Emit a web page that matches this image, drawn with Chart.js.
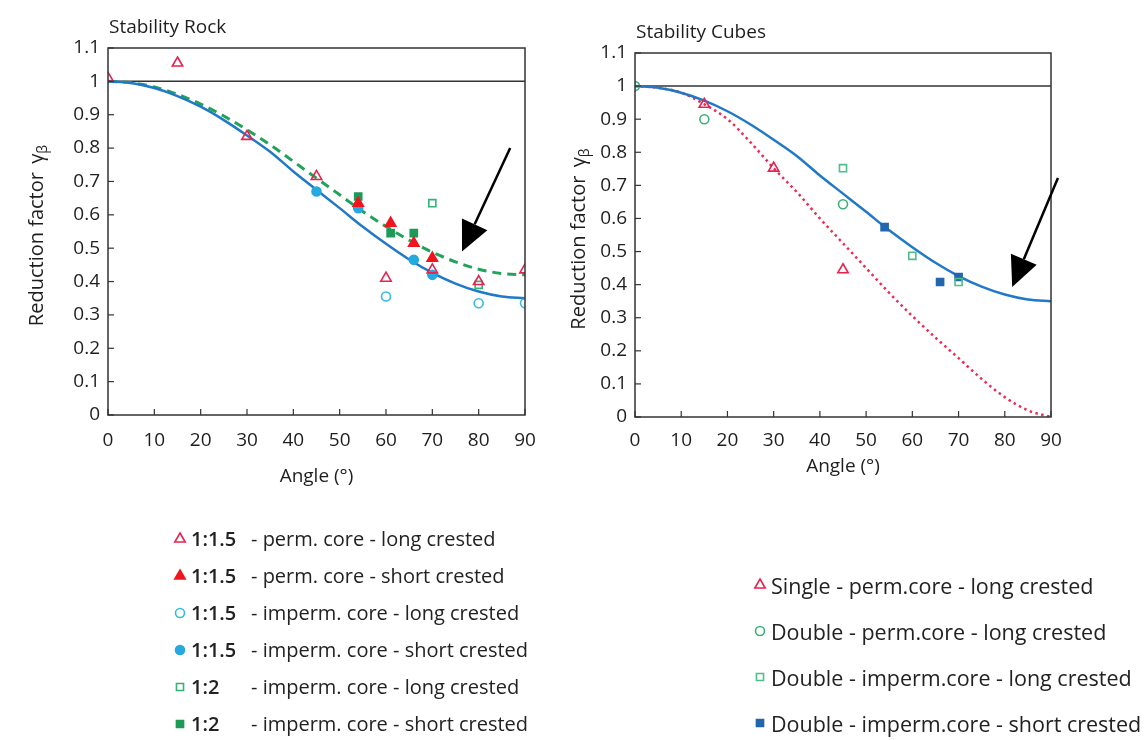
<!DOCTYPE html>
<html>
<head>
<meta charset="utf-8">
<script src="https://cdn.jsdelivr.net/npm/chart.js@4.4.0/dist/chart.umd.min.js"></script>
<style>
  body { margin: 0; width: 1144px; height: 740px; background: #fff; position: relative; overflow: hidden; font-family: "Open Sans", Lato, sans-serif; color: #222; }
  #rockWrap { position: absolute; left: 0; top: 0; }
  #cubeWrap { position: absolute; left: 560px; top: 0; }
  .legend { position: absolute; }
  .legend .row { display: flex; align-items: center; white-space: pre; }
  .legend canvas { margin-right: 3px; }
  #rockLegend { left: 172px; top: 520px; font-size: 20px; }
  #rockLegend .row { height: 37px; }
  #rockLegend .pre { display: inline-block; width: 60px; font-weight: 600; }
  #cubeLegend { left: 752px; top: 562px; font-size: 21.5px; }
  #cubeLegend .row { height: 46px; }
</style>
</head>
<body>
<div id="rockWrap"><canvas id="rockChart" width="560" height="500"></canvas></div>
<div id="cubeWrap"><canvas id="cubeChart" width="584" height="500"></canvas></div>
<div id="rockLegend" class="legend"></div>
<div id="cubeLegend" class="legend"></div>
<script>
// axis ticks
const xTicks = [0, 10, 20, 30, 40, 50, 60, 70, 80, 90];
const yTicks = [0, 0.1, 0.2, 0.3, 0.4, 0.5, 0.6, 0.7, 0.8, 0.9, 1, 1.1];
const refLineX = [0, 90];
const refLineY = [1, 1];

// fitted curves, every 5 degrees
const curveAngles = [0, 5, 10, 15, 20, 25, 30, 35, 40, 45, 50, 55, 60, 65, 70, 75, 80, 85, 90];
const rockBlueCurve = [1.0, 0.995, 0.98, 0.956, 0.924, 0.884, 0.838, 0.789, 0.73, 0.675, 0.62, 0.564, 0.513, 0.466, 0.426, 0.394, 0.37, 0.355, 0.35];
const rockGreenCurve = [1.0, 0.996, 0.983, 0.961, 0.932, 0.896, 0.855, 0.81, 0.76, 0.71, 0.66, 0.61, 0.565, 0.524, 0.488, 0.459, 0.437, 0.424, 0.42];
const cubeBlueCurve = [1.0, 0.995, 0.98, 0.956, 0.924, 0.884, 0.838, 0.789, 0.73, 0.675, 0.62, 0.564, 0.513, 0.466, 0.426, 0.394, 0.37, 0.355, 0.35];
const cubeRedCurve = [1.0, 0.995, 0.98, 0.945, 0.9, 0.83, 0.752, 0.68, 0.6, 0.525, 0.45, 0.375, 0.305, 0.24, 0.178, 0.115, 0.06, 0.02, 0.0];

// Stability Rock measurements
const rockPermLongX = [0, 15, 30, 45, 60, 70, 80, 90];
const rockPermLongY = [1.01, 1.055, 0.835, 0.715, 0.41, 0.435, 0.4, 0.435];
const rockPermShortX = [54, 61, 66, 70];
const rockPermShortY = [0.635, 0.575, 0.515, 0.47];
const rockImpLongX = [60, 80, 90];
const rockImpLongY = [0.355, 0.335, 0.335];
const rockImpShortX = [45, 54, 66, 70];
const rockImpShortY = [0.67, 0.62, 0.465, 0.42];
const rock2LongX = [70, 80];
const rock2LongY = [0.635, 0.39];
const rock2ShortX = [54, 61, 66];
const rock2ShortY = [0.655, 0.545, 0.545];

// Stability Cubes measurements
const cubeSingleX = [15, 30, 45];
const cubeSingleY = [0.945, 0.752, 0.445];
const cubeDblPermX = [0, 15, 45];
const cubeDblPermY = [1.0, 0.9, 0.643];
const cubeDblImpLongX = [45, 60, 70];
const cubeDblImpLongY = [0.752, 0.487, 0.408];
const cubeDblImpShortX = [54, 66, 70];
const cubeDblImpShortY = [0.574, 0.408, 0.423];

const rockLegendPrefix = ["1:1.5", "1:1.5", "1:1.5", "1:1.5", "1:2", "1:2"];
const rockLegendText = [
  "- perm. core - long crested",
  "- perm. core - short crested",
  "- imperm. core - long crested",
  "- imperm. core - short crested",
  "- imperm. core - long crested",
  "- imperm. core - short crested",
];
const cubeLegendText = [
  "Single - perm.core - long crested",
  "Double - perm.core - long crested",
  "Double - imperm.core - long crested",
  "Double - imperm.core - short crested",
];

// arrows in data units [angle, factor]
const rockArrow = { from: [86.8, 0.8], to: [76.4, 0.49] };
const cubeArrow = { from: [91.5, 0.722], to: [81.6, 0.393] };

const FONT = "'Open Sans', Lato, sans-serif";
const INK = "#1e1e1e";

function pts(xs, ys) {
  return xs.map((x, i) => ({ x: x, y: ys[i] }));
}

function markers(label, xs, ys, style, color, filled, radius) {
  return {
    label: label,
    data: pts(xs, ys),
    showLine: false,
    pointStyle: style,
    pointRadius: radius || 5,
    pointBorderWidth: 1.6,
    pointBorderColor: color,
    pointBackgroundColor: filled ? color : "rgba(0,0,0,0)",
    borderColor: color,
    backgroundColor: filled ? color : "rgba(0,0,0,0)",
  };
}

function curve(ys, color, width, dash) {
  return {
    data: pts(curveAngles, ys),
    showLine: true,
    pointRadius: 0,
    borderColor: color,
    borderWidth: width,
    borderDash: dash || [],
    cubicInterpolationMode: "monotone",
    fill: false,
  };
}

function refLine() {
  return {
    data: pts(refLineX, refLineY),
    showLine: true,
    pointRadius: 0,
    borderColor: "#333",
    borderWidth: 1.5,
  };
}

const framePlugin = {
  id: "frame",
  afterDraw(chart, args, opts) {
    const { ctx, chartArea: a, scales } = chart;
    const x = scales.x, y = scales.y;
    ctx.save();
    ctx.strokeStyle = "#333";
    ctx.lineWidth = 1.5;
    ctx.strokeRect(a.left, a.top, a.right - a.left, a.bottom - a.top);
    ctx.lineWidth = 1.2;
    x.ticks.forEach((t) => {
      const px = x.getPixelForValue(t.value);
      ctx.beginPath();
      ctx.moveTo(px, a.bottom);
      ctx.lineTo(px, a.bottom - 6);
      ctx.stroke();
    });
    y.ticks.forEach((t) => {
      const py = y.getPixelForValue(t.value);
      ctx.beginPath();
      ctx.moveTo(a.left, py);
      ctx.lineTo(a.left + 6, py);
      ctx.stroke();
    });
    // chart title
    ctx.fillStyle = INK;
    ctx.font = "19px " + FONT;
    ctx.textBaseline = "middle";
    ctx.textAlign = "left";
    ctx.fillText(opts.title, a.left + 1, a.top - 20);

    // y axis title with subscript beta
    ctx.save();
    ctx.translate(opts.yTitleX, (a.top + a.bottom) / 2 + 4);
    ctx.rotate(-Math.PI / 2);
    ctx.textBaseline = "alphabetic";
    const main = "Reduction factor ", g = "γ", b = "β";
    ctx.font = "20px " + FONT;
    const wMain = ctx.measureText(main).width;
    const wG = ctx.measureText(g).width;
    ctx.font = "14px " + FONT;
    const wB = ctx.measureText(b).width;
    let cx = -(wMain + wG + wB + 3) / 2;
    ctx.font = "20px " + FONT;
    ctx.fillText(main, cx, 7);
    cx += wMain + 3;
    ctx.fillText(g, cx, 7);
    cx += wG;
    ctx.font = "14px " + FONT;
    ctx.fillText(b, cx, 11);
    ctx.restore();

    // arrow
    const ar = opts.arrow;
    const x1 = x.getPixelForValue(ar.from[0]), y1 = y.getPixelForValue(ar.from[1]);
    const x2 = x.getPixelForValue(ar.to[0]), y2 = y.getPixelForValue(ar.to[1]);
    const ang = Math.atan2(y2 - y1, x2 - x1);
    const headLen = 30, headW = 14;
    const bx = x2 - headLen * Math.cos(ang), by = y2 - headLen * Math.sin(ang);
    ctx.strokeStyle = "#000";
    ctx.fillStyle = "#000";
    ctx.lineWidth = 2.5;
    ctx.beginPath();
    ctx.moveTo(x1, y1);
    ctx.lineTo(bx, by);
    ctx.stroke();
    ctx.beginPath();
    ctx.moveTo(x2, y2);
    ctx.lineTo(bx + headW * Math.sin(ang), by - headW * Math.cos(ang));
    ctx.lineTo(bx - headW * Math.sin(ang), by + headW * Math.cos(ang));
    ctx.closePath();
    ctx.fill();
    ctx.restore();
  },
};

function options(cfg) {
  return {
    responsive: false,
    animation: false,
    layout: { padding: { top: cfg.top, right: cfg.right, left: 0, bottom: 0 } },
    plugins: {
      legend: { display: false },
      tooltip: { enabled: false },
      frame: { title: cfg.title, arrow: cfg.arrow, yTitleX: cfg.yTitleX },
    },
    scales: {
      x: {
        type: "linear",
        min: 0,
        max: 90,
        grid: { display: false, drawTicks: false },
        border: { display: false },
        afterBuildTicks: (s) => { s.ticks = xTicks.map((v) => ({ value: v })); },
        afterFit: (s) => { s.height = cfg.xHeight; },
        ticks: { padding: cfg.xTickPad, color: INK, maxRotation: 0, font: { family: FONT, size: 19 } },
        title: {
          display: true,
          text: "Angle (°)",
          color: INK,
          font: { family: FONT, size: 19 },
          padding: { top: 0, bottom: cfg.xTitlePad },
        },
      },
      y: {
        type: "linear",
        min: 0,
        max: 1.1,
        grid: { display: false, drawTicks: false },
        border: { display: false },
        afterBuildTicks: (s) => { s.ticks = yTicks.map((v) => ({ value: v })); },
        afterFit: (s) => { s.width = cfg.yWidth; },
        ticks: {
          padding: 8,
          color: INK,
          font: { family: FONT, size: 19 },
          callback: (v) => String(+v.toFixed(1)),
        },
      },
    },
  };
}

const RED = "#e8224f", RED_F = "#f0141e", CYAN = "#35bcdc", CYAN_F = "#25a9de";
const GREEN = "#33b377", GREEN_F = "#1e9a58", BLUE = "#1f78c8";

const rockMarkers = [
  markers("p-long", rockPermLongX, rockPermLongY, "triangle", RED, false, 6),
  markers("p-short", rockPermShortX, rockPermShortY, "triangle", RED_F, true, 6),
  markers("i-long", rockImpLongX, rockImpLongY, "circle", CYAN, false, 4.5),
  markers("i-short", rockImpShortX, rockImpShortY, "circle", CYAN_F, true, 4.5),
  markers("2-long", rock2LongX, rock2LongY, "rect", GREEN, false, 5),
  markers("2-short", rock2ShortX, rock2ShortY, "rect", GREEN_F, true, 5),
];

const cubeMarkers = [
  markers("single", cubeSingleX, cubeSingleY, "triangle", RED, false, 6),
  markers("dbl-perm", cubeDblPermX, cubeDblPermY, "circle", "#3cb07a", false, 4.5),
  markers("dbl-imp-long", cubeDblImpLongX, cubeDblImpLongY, "rect", "#4cbf8c", false, 5),
  markers("dbl-imp-short", cubeDblImpShortX, cubeDblImpShortY, "rect", "#2466ae", true, 5),
];

new Chart(document.getElementById("rockChart"), {
  type: "scatter",
  data: {
    datasets: rockMarkers.concat([
      curve(rockBlueCurve, BLUE, 2.5),
      curve(rockGreenCurve, "#22a35a", 3, [9, 6]),
      refLine(),
    ]),
  },
  options: options({ top: 48, right: 35, xHeight: 85, xTickPad: 14, xTitlePad: 12, yWidth: 108, yTitleX: 36, title: "Stability Rock", arrow: rockArrow }),
  plugins: [framePlugin],
});

new Chart(document.getElementById("cubeChart"), {
  type: "scatter",
  data: {
    datasets: cubeMarkers.concat([
      curve(cubeBlueCurve, BLUE, 2.5),
      curve(cubeRedCurve, "#ee2a55", 2.5, [2.5, 3.5]),
      refLine(),
    ]),
  },
  options: options({ top: 53, right: 93, xHeight: 83, xTickPad: 12, xTitlePad: 22, yWidth: 75, yTitleX: 18, title: "Stability Cubes", arrow: cubeArrow }),
  plugins: [framePlugin],
});

function buildLegend(el, sets, prefixes, texts) {
  sets.forEach((ds, i) => {
    const row = document.createElement("div");
    row.className = "row";
    const c = document.createElement("canvas");
    c.width = 16;
    c.height = 16;
    const cx = c.getContext("2d");
    cx.strokeStyle = ds.pointBorderColor;
    cx.fillStyle = ds.pointBackgroundColor;
    cx.lineWidth = ds.pointBorderWidth;
    Chart.helpers.drawPoint(cx, { pointStyle: ds.pointStyle, radius: ds.pointRadius, rotation: 0, borderWidth: ds.pointBorderWidth }, 8, 8);
    row.appendChild(c);
    if (prefixes) {
      const p = document.createElement("span");
      p.className = "pre";
      p.textContent = prefixes[i];
      row.appendChild(p);
    }
    const t = document.createElement("span");
    t.textContent = texts[i];
    row.appendChild(t);
    el.appendChild(row);
  });
}

buildLegend(document.getElementById("rockLegend"), rockMarkers, rockLegendPrefix, rockLegendText);
buildLegend(document.getElementById("cubeLegend"), cubeMarkers, null, cubeLegendText);
</script>
</body>
</html>
